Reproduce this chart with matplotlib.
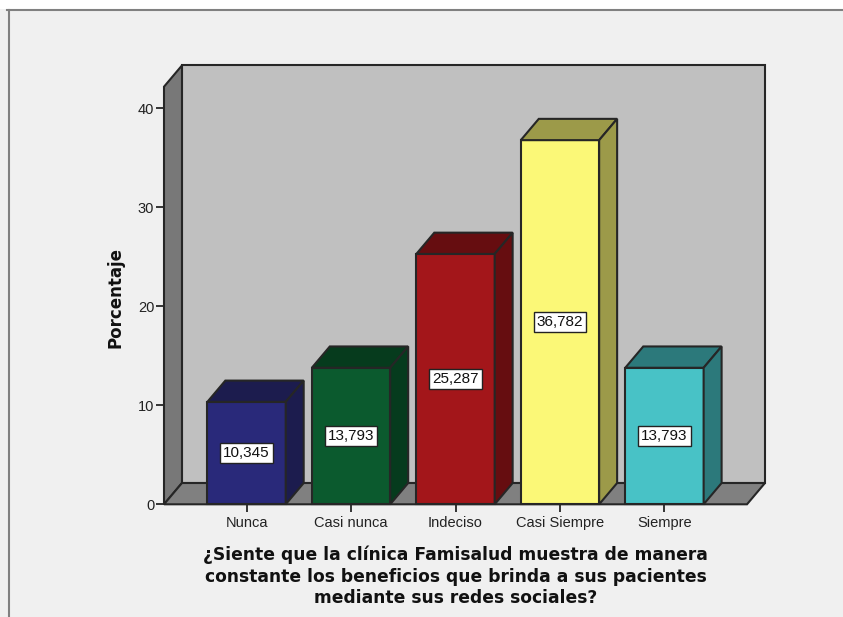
import matplotlib.pyplot as plt
from matplotlib.patches import Polygon, Rectangle
from matplotlib.lines import Line2D

categorias = ['Nunca', 'Casi nunca', 'Indeciso', 'Casi Siempre', 'Siempre']
porcentaje = [10.345, 13.793, 25.287, 36.782, 13.793]
frente = ['#29297a', '#0b5a2e', '#a3161a', '#fbf877', '#48c2c6']
lateral = ['#1c1c4e', '#063b1d', '#660d10', '#9c9a49', '#2c797b']
yticks = [0, 10, 20, 30, 40]
titulo = ('¿Siente que la clínica Famisalud muestra de manera\n'
          'constante los beneficios que brinda a sus pacientes\n'
          'mediante sus redes sociales?')

W, H = 843, 617
fig = plt.figure(figsize=(W/100, H/100), dpi=100, facecolor='#f0f0f0')
ax = fig.add_axes([164/W, 1-504.3/H, 583/W, 417.6/H])

# plot box and 3d depth (data units)
x0, x1 = -0.79, 4.79
y0, y1 = 0, 42.18
dx, dy = 0.172, 2.15
w = 0.75
edge = '#262626'

ax.set_xlim(x0, x1)
ax.set_ylim(y0, y1)
ax.patch.set_visible(False)
for s in ax.spines.values():
    s.set_visible(False)

def poly(pts, fc, z):
    ax.add_patch(Polygon(pts, closed=True, fc=fc, ec=edge, lw=1.5, zorder=z,
                         clip_on=False, joinstyle='miter'))

# back wall, left wall, floor
poly([(x0+dx, dy), (x1+dx, dy), (x1+dx, y1+dy), (x0+dx, y1+dy)], '#c0c0c0', 1)
poly([(x0, 0), (x0+dx, dy), (x0+dx, y1+dy), (x0, y1)], '#787878', 1)
poly([(x0, 0), (x1, 0), (x1+dx, dy), (x0+dx, dy)], '#808080', 1)

xs = list(range(len(categorias)))
ax.bar(xs, porcentaje, width=w, color=frente, edgecolor=edge, lw=1.5,
       zorder=3, clip_on=False)
for i, v in enumerate(porcentaje):
    l, r = i - w/2, i + w/2
    poly([(l, v), (r, v), (r+dx, v+dy), (l+dx, v+dy)], lateral[i], 3)
    poly([(r, 0), (r+dx, dy), (r+dx, v+dy), (r, v)], lateral[i], 3)
    ax.text(i, v/2, f'{v:.3f}'.replace('.', ','), ha='center', va='center',
            fontsize=11, family='Liberation Sans', color='#111111', zorder=5,
            bbox=dict(boxstyle='square,pad=0.2', fc='white', ec='#222222', lw=1))

ax.set_xticks(xs)
ax.set_xticklabels(categorias, family='Liberation Sans', fontsize=10.5, color='#222222')
ax.set_yticks(yticks)
ax.set_yticklabels([str(t) for t in yticks], family='Liberation Sans', fontsize=10.5,
                   color='#222222')
ax.tick_params(axis='both', length=5.5, width=1.3, color=edge)
ax.tick_params(axis='x', pad=3)
ax.tick_params(axis='y', pad=1.5)

fig.text(115/W, 1-297/H, 'Porcentaje', rotation=90, ha='center', va='center',
         fontsize=12, fontweight='bold', color='#111111')
fig.text(455.5/W, 1-576.5/H, titulo, ha='center', va='center', fontsize=12.3,
         fontweight='bold', color='#111111', linespacing=1.25)

# frame around the chart
fig.patches.append(Rectangle((0, 1-9/H), 1, 9/H, transform=fig.transFigure,
                             fc='white', ec='none'))
fig.add_artist(Line2D([7/W, 1], [1-9.5/H]*2, transform=fig.transFigure,
                      color='#808080', lw=1.5))
fig.add_artist(Line2D([9/W]*2, [0, 1-9.5/H], transform=fig.transFigure,
                      color='#808080', lw=1.5))

fig.savefig('out.png', dpi=100, facecolor=fig.get_facecolor())
